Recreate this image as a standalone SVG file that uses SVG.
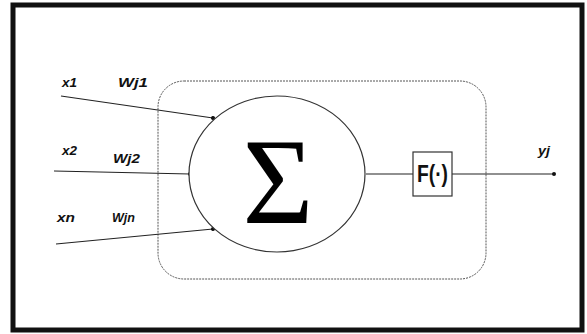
<svg xmlns="http://www.w3.org/2000/svg" width="587" height="334" viewBox="0 0 587 334">
<style>
.lbl{font-family:"Liberation Sans",Arial,sans-serif;font-weight:bold;font-style:italic;font-size:12.5px;fill:#111}
.ln{stroke:#222;stroke-width:1.2;fill:none}
</style>
<defs>
<marker id="dot" viewBox="0 0 6 6" refX="3" refY="3" markerWidth="4" markerHeight="4" markerUnits="userSpaceOnUse" orient="auto">
<circle cx="3" cy="3" r="3" fill="#111"/>
</marker>
</defs>
<rect x="0" y="0" width="587" height="334" fill="#fff"/>
<rect x="13" y="5" width="569" height="325" fill="none" stroke="#111" stroke-width="5"/>
<g id="neuron-boundary">
<rect x="158" y="81" width="328" height="198" rx="26" ry="26" fill="none" stroke="#555" stroke-width="1" stroke-dasharray="2 1"/>
</g>
<g id="connectors">
<line class="ln" x1="61" y1="96" x2="213" y2="118" marker-end="url(#dot)"/>
<line class="ln" x1="54" y1="171" x2="190" y2="174" marker-end="url(#dot)"/>
<line class="ln" x1="56" y1="244" x2="213" y2="229" marker-end="url(#dot)"/>
<line class="ln" x1="366" y1="174" x2="413" y2="174"/>
<line class="ln" x1="452" y1="174" x2="554" y2="174" marker-end="url(#dot)"/>
</g>
<g id="inputs">
<text class="lbl" x="62" y="87" textLength="15" lengthAdjust="spacingAndGlyphs">x1</text>
<text class="lbl" x="118" y="87" textLength="30" lengthAdjust="spacingAndGlyphs">Wj1</text>
<text class="lbl" x="62" y="155" textLength="15" lengthAdjust="spacingAndGlyphs">x2</text>
<text class="lbl" x="113" y="163" textLength="27" lengthAdjust="spacingAndGlyphs">Wj2</text>
<text class="lbl" x="57" y="222" textLength="18" lengthAdjust="spacingAndGlyphs">xn</text>
<text class="lbl" x="112" y="222" textLength="23" lengthAdjust="spacingAndGlyphs">Wjn</text>
</g>
<g id="sum">
<ellipse cx="277" cy="174" rx="88" ry="78" fill="#fff" stroke="#333" stroke-width="1.2"/>
<text x="278" y="223" text-anchor="middle" font-family="Liberation Serif, 'Times New Roman', serif" font-size="122" fill="#000">Σ</text>
</g>
<g id="activation">
<rect x="413" y="152" width="39" height="44" fill="#fff" stroke="#333" stroke-width="1.2"/>
<text x="417" y="182" textLength="31" lengthAdjust="spacingAndGlyphs" font-family="Liberation Sans, Arial, sans-serif" font-weight="bold" font-size="24" fill="#111">F(·)</text>
</g>
<g id="output">
<text class="lbl" x="538" y="155" textLength="12" lengthAdjust="spacingAndGlyphs">yj</text>
</g>
</svg>
